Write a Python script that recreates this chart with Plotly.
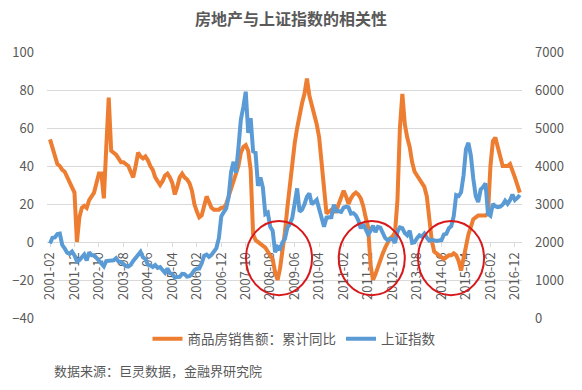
import plotly.graph_objects as go

# ---- data ----
start_year, start_month, n_months = 2001, 2, 193
months = []
y, m = start_year, start_month
for _ in range(n_months):
    months.append(f"{y}-{m:02d}")
    m += 1
    if m > 12:
        m = 1
        y += 1

tick_labels = ["2001-02", "2001-12", "2002-10", "2003-08", "2004-06", "2005-04",
               "2006-02", "2006-12", "2007-10", "2008-08", "2009-06", "2010-04",
               "2011-02", "2011-12", "2012-10", "2013-08", "2014-06", "2015-04",
               "2016-02", "2016-12"]

# 商品房销售额：累计同比 (%)
sales_yoy = [
    54, 50, 45, 41, 40, 38, 37, 34, 31, 28,          # 2001-02 .. 2001-11
    26, 0, 13, 18, 19, 18, 22, 24, 26, 31,           # 2001-12 .. 2002-09
    36, 36, 23, 50, 76, 48, 47, 46, 44, 42,          # 2002-10 .. 2003-07
    42, 41, 40, 37, 34, 40, 47, 45, 44, 45,          # 2003-08 .. 2004-05
    43, 40, 38, 34, 32, 30, 32, 35, 36, 34,          # 2004-06 .. 2005-03
    31, 25, 29, 34, 36, 34, 33, 31, 27, 20,          # 2005-04 .. 2006-01
    16, 13, 14, 20, 24, 21, 18, 17, 17, 17,          # 2006-02 .. 2006-11
    18, 18, 20, 24, 29, 33, 37, 40, 47, 50,          # 2006-12 .. 2007-09
    51, 48, 38, 4, 1, 0, -1, -2, -3, -5,             # 2007-10 .. 2008-07
    -7, -9, -16, -20, -14, -5, 5, 18, 30, 42,        # 2008-08 .. 2009-05
    52, 60, 68, 73, 78, 86, 77, 72, 69, 62,          # 2009-06 .. 2010-03
    55, 40, 24, 15, 16, 17, 16, 16, 20, 24,          # 2010-04 .. 2011-01
    27, 24, 20, 23, 25, 26, 25, 23, 19, 13,          # 2011-02 .. 2011-11
    8, -12, -20, -17, -13, -9, -6, -3, 0, 2,         # 2011-12 .. 2012-09
    3, 5, 22, 60, 78, 62, 55, 50, 42, 37,            # 2012-10 .. 2013-07
    35, 33, 31, 29, 24, 12, 1, -5, -6, -7,           # 2013-08 .. 2014-05
    -8, -9, -8, -7, -7, -6, -7, -10, -15, -8,        # 2014-06 .. 2015-03
    -2, 4, 8, 12, 13, 14, 14, 14, 14, 15,            # 2015-04 .. 2016-01
    40, 53, 55, 50, 44, 40, 40, 40, 41, 38,          # 2016-02 .. 2016-11
    34, 30, 26                                       # 2016-12 .. 2017-02
]

# 上证指数
sh_index = [
    1960, 2110, 2120, 2210, 2220, 1920, 1830, 1720, 1690, 1750,
    1650, 1490, 1525, 1595, 1670, 1515, 1730, 1650, 1650, 1580,
    1505, 1420, 1360, 1500, 1510, 1510, 1520, 1575, 1485, 1475,
    1420, 1365, 1350, 1400, 1500, 1590, 1675, 1740, 1595, 1555,
    1400, 1385, 1340, 1395, 1320, 1340, 1265, 1190, 1305, 1180,
    1160, 1060, 1080, 1085, 1160, 1155, 1090, 1100, 1160, 1260,
    1300, 1300, 1440, 1640, 1670, 1610, 1660, 1750, 1840, 2100,
    2675, 2785, 2880, 3185, 3840, 4110, 3820, 4470, 5220, 5550,
    5955, 4870, 5260, 4385, 4350, 3475, 3695, 3435, 2735, 2775,
    2400, 2295, 1730, 1870, 1820, 1990, 2080, 2375, 2475, 2630,
    2960, 3410, 2800, 2850, 2995, 3195, 3275, 2990, 3050, 3110,
    2870, 2590, 2400, 2640, 2640, 2655, 2980, 2820, 2810, 2790,
    2905, 2930, 2910, 2745, 2760, 2700, 2570, 2360, 2470, 2335,
    2200, 2290, 2430, 2260, 2395, 2375, 2225, 2105, 2045, 2085,
    2070, 1980, 2270, 2385, 2365, 2235, 2175, 2300, 1980, 1995,
    2100, 2175, 2140, 2220, 2115, 2035, 2055, 2035, 2025, 2040,
    2050, 2200, 2215, 2365, 2420, 2680, 3235, 3210, 3310, 3750,
    4440, 4610, 4275, 3665, 3205, 3050, 3380, 3445, 3540, 2740,
    2690, 3005, 2940, 2915, 2930, 2980, 3085, 3005, 3100, 3250,
    3105, 3160, 3240
]

series_names = ["商品房销售额：累计同比", "上证指数"]
colors = ["#ED7D31", "#5B9BD5"]

# highlighted periods (category indices of circle centres) - annotation ellipses
circle_centers = [93.6, 131.5, 163.9]
circle_half_width = 13.5
circle_y = (-28, 11)

title = "房地产与上证指数的相关性"
source = "数据来源：巨灵数据，金融界研究院"

FONT = "Microsoft YaHei, Noto Sans CJK SC, sans-serif"
GREY = "#595959"

fig = go.Figure()
fig.add_trace(go.Scatter(x=months, y=sales_yoy, name=series_names[0], mode="lines",
                         line=dict(color=colors[0], width=4), yaxis="y"))
fig.add_trace(go.Scatter(x=months, y=sh_index, name=series_names[1], mode="lines",
                         line=dict(color=colors[1], width=4), yaxis="y2"))

for c in circle_centers:
    fig.add_shape(type="circle", xref="x", yref="y",
                  x0=c - circle_half_width, x1=c + circle_half_width,
                  y0=circle_y[0], y1=circle_y[1],
                  line=dict(color="#D7191C", width=2), layer="above")

L, R, T, B = 47, 60, 52, 72
W = 582 - L - R
H = 390 - T - B
zero_frac = (0 - (-40)) / 140.0

fig.update_layout(
    width=582, height=390,
    margin=dict(l=L, r=R, t=T, b=B, autoexpand=False),
    paper_bgcolor="white", plot_bgcolor="white",
    font=dict(family=FONT, color=GREY, size=13),
    title=dict(text="<b>" + title + "</b>", x=291/582, xanchor="center",
               y=1 - 19/390, yanchor="middle", font=dict(size=16, color=GREY)),
    showlegend=True,
    legend=dict(orientation="h", xref="paper", yref="paper",
                x=(294 - L) / W, xanchor="center", y=-(339 - 318) / H, yanchor="middle",
                font=dict(size=13.5, color=GREY), itemwidth=30, tracegroupgap=0),
    xaxis=dict(type="category", categoryorder="array", categoryarray=months,
               range=[-1.23, 192.9], tickmode="array", tickvals=tick_labels,
               ticktext=tick_labels, tickangle=-90, ticks="outside", ticklen=4,
               tickcolor="#d9d9d9", showgrid=False, showline=True,
               linecolor="#d9d9d9", linewidth=1, anchor="free", position=zero_frac,
               layer="below traces", tickfont=dict(size=13, color=GREY)),
    yaxis=dict(range=[-40, 100], tickmode="array", tickvals=[-40, -20, 0, 20, 40, 60, 80, 100],
               showgrid=True, gridcolor="#d9d9d9", gridwidth=1, zeroline=False,
               showline=False, ticks="", ticklabelstandoff=12,
               tickfont=dict(size=13, color=GREY)),
    yaxis2=dict(range=[0, 7000], tickmode="array",
                tickvals=[0, 1000, 2000, 3000, 4000, 5000, 6000, 7000],
                overlaying="y", side="right", showgrid=False, zeroline=False,
                showline=False, ticks="", ticklabelstandoff=12,
                tickfont=dict(size=13, color=GREY)),
    annotations=[dict(text=source, xref="paper", yref="paper",
                      x=(52 - L) / W, xanchor="left",
                      y=-(370 - 318) / H, yanchor="middle", showarrow=False,
                      font=dict(size=13, color=GREY))],
)

fig.write_html("out.html", config={"displayModeBar": False},
               post_script="document.body.style.margin='0px';document.body.style.overflow='hidden';")
